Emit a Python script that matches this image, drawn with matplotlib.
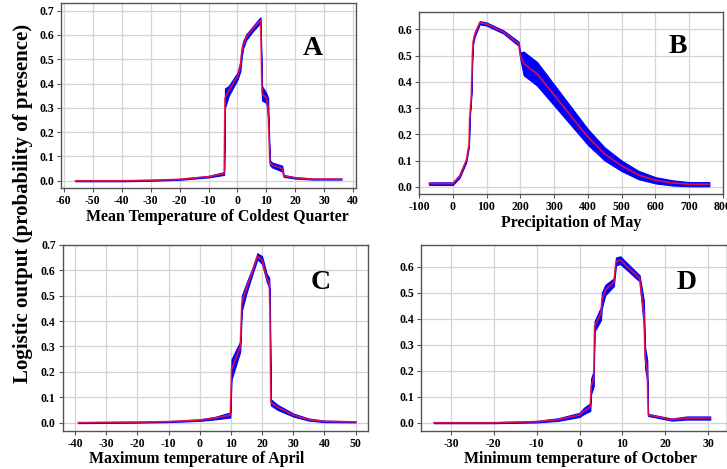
import matplotlib
matplotlib.use("Agg")
import matplotlib.pyplot as plt
import numpy as np

plt.rcParams['font.family'] = ['Liberation Serif', 'DejaVu Serif']
plt.rcParams['font.weight'] = 'bold'

# A - Mean Temperature of Coldest Quarter
a_x = [-56, -40, -30, -20, -10, -4.6, -4.3, -3, 0, 1, 1.5, 2, 3, 5, 7.5, 8, 8.5, 10, 10.6, 11.2, 12, 15.5, 16, 20, 26, 36]
a_y = [0.0, 0.0, 0.002, 0.006, 0.017, 0.03, 0.34, 0.37, 0.43, 0.47, 0.53, 0.56, 0.59, 0.62, 0.655, 0.66, 0.36, 0.34, 0.3, 0.075, 0.065, 0.05, 0.02, 0.012, 0.007, 0.007]
a_w = [0.002, 0.002, 0.002, 0.002, 0.003, 0.006, 0.04, 0.02, 0.015, 0.02, 0.02, 0.015, 0.012, 0.01, 0.012, 0.012, 0.03, 0.02, 0.04, 0.01, 0.01, 0.012, 0.004, 0.003, 0.002, 0.002]

# B - Precipitation of May
b_x = [-70, 0, 20, 40, 48, 50, 55, 58, 60, 65, 80, 100, 150, 195, 200, 210, 250, 300, 350, 400, 450, 500, 550, 600, 650, 700, 760]
b_y = [0.012, 0.012, 0.04, 0.1, 0.16, 0.26, 0.35, 0.5, 0.55, 0.58, 0.625, 0.62, 0.59, 0.545, 0.5, 0.47, 0.43, 0.35, 0.27, 0.19, 0.125, 0.08, 0.045, 0.025, 0.015, 0.01, 0.01]
b_w = [0.005, 0.005, 0.006, 0.007, 0.008, 0.008, 0.008, 0.01, 0.01, 0.008, 0.006, 0.006, 0.006, 0.008, 0.012, 0.045, 0.045, 0.04, 0.035, 0.03, 0.025, 0.02, 0.016, 0.012, 0.01, 0.008, 0.008]

# C - Maximum temperature of April
c_x = [-39, -20, -10, 0, 5, 9.8, 10.2, 13, 13.5, 15, 17, 18.5, 20, 21.5, 22.3, 22.5, 22.8, 25, 30, 35, 40, 50]
c_y = [0.0, 0.002, 0.004, 0.01, 0.018, 0.03, 0.21, 0.3, 0.47, 0.53, 0.6, 0.655, 0.64, 0.57, 0.55, 0.45, 0.08, 0.06, 0.03, 0.012, 0.005, 0.003]
c_w = [0.002, 0.002, 0.002, 0.003, 0.005, 0.01, 0.04, 0.02, 0.03, 0.02, 0.012, 0.012, 0.015, 0.015, 0.02, 0.05, 0.012, 0.01, 0.006, 0.004, 0.003, 0.002]

# D - Minimum temperature of October
d_x = [-34, -20, -10, -5, 0, 1, 2.5, 2.7, 3.3, 3.5, 5, 5.2, 6, 8, 8.5, 9.5, 14, 15, 15.3, 15.8, 16, 21.5, 25, 30.5]
d_y = [0.0, 0.0, 0.004, 0.012, 0.03, 0.045, 0.06, 0.14, 0.17, 0.37, 0.42, 0.47, 0.51, 0.54, 0.62, 0.625, 0.555, 0.42, 0.25, 0.2, 0.03, 0.012, 0.018, 0.018]
d_w = [0.002, 0.002, 0.003, 0.005, 0.008, 0.012, 0.015, 0.03, 0.03, 0.02, 0.025, 0.03, 0.02, 0.015, 0.015, 0.015, 0.012, 0.05, 0.04, 0.04, 0.004, 0.004, 0.006, 0.006]

panels = [
    ("A", a_x, a_y, a_w, "Mean Temperature of Coldest Quarter",
     [0.0839, 0.599, 0.4058, 0.394], (-61, 41), (-0.03, 0.73), np.arange(-60, 41, 10), np.arange(0, 0.71, 0.1), (0.854, 0.757), (0.53, -0.115)),
    ("B", b_x, b_y, b_w, "Precipitation of May",
     [0.5763, 0.586, 0.418, 0.388], (-100, 800), (-0.028, 0.665), np.arange(-100, 801, 100), np.arange(0, 0.61, 0.1), (0.852, 0.81), (0.5, -0.115)),
    ("C", c_x, c_y, c_w, "Maximum temperature of April",
     [0.0862, 0.081, 0.42, 0.397], (-44, 54), (-0.033, 0.70), np.arange(-40, 51, 10), np.arange(0, 0.71, 0.1), (0.844, 0.796), (0.44, -0.105)),
    ("D", d_x, d_y, d_w, "Minimum temperature of October",
     [0.579, 0.081, 0.421, 0.397], (-37, 34.4), (-0.032, 0.684), np.arange(-30, 31, 10), np.arange(0, 0.61, 0.1), (0.869, 0.796), (0.52, -0.11)),
]

fig = plt.figure(figsize=(7.27, 4.69), dpi=100)

for lettre, x, y, w, titre, pos, xlim, ylim, xt, yt, lpos, xlab_pos in panels:
    ax = fig.add_axes(pos)
    x = np.array(x)
    y = np.array(y)
    w = np.array(w)
    ax.fill_between(x, y - w, y + w, color="#0000ff", lw=0.8, edgecolor="#0000ff")
    ax.plot(x, y, color="#ff1030", lw=1.2, alpha=0.85)
    ax.set_xlim(xlim)
    ax.set_ylim(ylim)
    ax.set_xticks(xt)
    ax.set_yticks(yt)
    ax.set_xticklabels([f"{v:g}" for v in xt])
    ax.set_yticklabels([f"{v:.1f}" for v in yt])
    ax.grid(True, color="#d4d4d4", lw=0.9)
    ax.set_axisbelow(True)
    for s in ax.spines.values():
        s.set_color("#555555")
        s.set_linewidth(1.0)
    ax.tick_params(axis="both", labelsize=8.5, length=3, direction="out", color="#555555", pad=2)
    ax.set_xlabel(titre, fontsize=11.4, fontweight="bold")
    ax.xaxis.set_label_coords(xlab_pos[0], xlab_pos[1])
    ax.text(lpos[0], lpos[1], lettre, transform=ax.transAxes, fontsize=20,
            fontweight="bold", ha="center", va="center")

fig.text(0.031, 0.566, "Logistic output (probability of presence)", rotation=90,
         fontsize=15, fontweight="bold", ha="center", va="center")

fig.savefig("out.png", dpi=100)
